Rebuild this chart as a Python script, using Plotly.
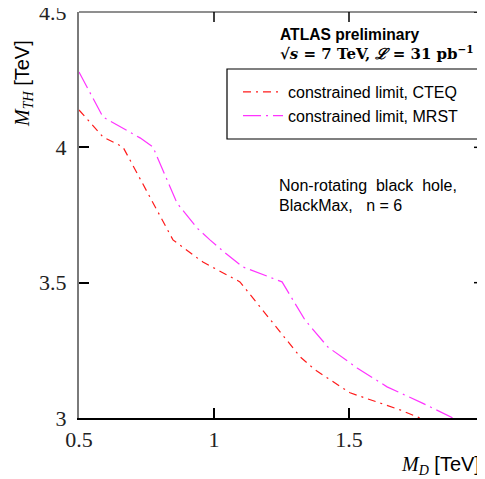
import plotly.graph_objects as go

# ---- data ----
cteq_md = [0.50, 0.589, 0.663, 0.848, 0.959, 1.096, 1.319, 1.374, 1.504, 1.689, 1.763]
cteq_mth = [4.138, 4.038, 4.001, 3.658, 3.576, 3.503, 3.226, 3.178, 3.093, 3.030, 3.000]

mrst_md = [0.50, 0.589, 0.726, 0.774, 0.863, 0.937, 0.985, 1.041, 1.107, 1.252,
           1.337, 1.422, 1.530, 1.641, 1.770, 1.885]
mrst_mth = [4.278, 4.112, 4.035, 4.001, 3.794, 3.702, 3.658, 3.610, 3.558, 3.503,
            3.362, 3.262, 3.185, 3.115, 3.056, 3.000]

x_ticks = [0.5, 1, 1.5, 2]
x_ticklabels = ["0.5", "1", "1.5", "2"]
y_ticks = [3, 3.5, 4, 4.5]
y_ticklabels = ["3", "3.5", "4", "4.5"]

SERIF = "Liberation Serif"
SANS = "Liberation Sans"

# page body has an 8px margin: figure occupies window pixels 8..485 / 8..479
OFF = 8
L, T, PW, PH = 79, 12, 405, 406  # plot area in window pixels
TICK = 10


def px(xw):
    return (xw - L) / PW


def py(yw):
    return (T + PH - yw) / PH


XR = [0.5, 2.000001]
YR = [2.999999, 4.500001]

fig = go.Figure()
fig.add_trace(go.Scatter(
    x=cteq_md, y=cteq_mth, mode="lines", name="constrained limit, CTEQ",
    line=dict(color="#ff1a1a", width=1.2, dash="8px,5px,2px,5px")))
fig.add_trace(go.Scatter(
    x=mrst_md, y=mrst_mth, mode="lines", name="constrained limit, MRST",
    line=dict(color="#ff33ff", width=1.2, dash="18px,5px,2px,5px")))

fig.update_layout(
    width=485 - OFF, height=479 - OFF,
    margin=dict(l=L - OFF, r=1, t=T - OFF, b=479 - T - PH, autoexpand=False),
    paper_bgcolor="white", plot_bgcolor="white",
    showlegend=True,
    legend=dict(x=px(238), y=py(75), xanchor="left", yanchor="top",
                bgcolor="rgba(0,0,0,0)", borderwidth=0,
                font=dict(family=SANS, size=16, color="black"),
                tracegroupgap=0, itemwidth=40),
    xaxis=dict(range=XR, tickvals=x_ticks, ticktext=x_ticklabels,
               automargin=False, ticklabeloverflow="allow",
               showgrid=False, zeroline=False, showline=True, linecolor="black",
               linewidth=1.5, ticks="inside", ticklen=TICK, tickcolor="black",
               tickwidth=1.5,
               tickfont=dict(family=SERIF, size=22, color="#222"),
               ticklabelstandoff=1),
    yaxis=dict(range=YR, tickvals=y_ticks, ticktext=y_ticklabels,
               automargin=False, ticklabeloverflow="allow",
               showgrid=False, zeroline=False, showline=True, linecolor="#7a7a7a",
               linewidth=2, ticks="inside", ticklen=TICK, tickcolor="black",
               tickwidth=1.5,
               tickfont=dict(family=SERIF, size=22, color="#222"),
               ticklabelstandoff=6),
)

shapes = [
    # legend frame
    dict(type="rect", xref="paper", yref="paper",
         x0=px(227), x1=px(482), y0=py(139), y1=py(69),
         line=dict(color="black", width=1.2), fillcolor="rgba(0,0,0,0)"),
    # top frame line
    dict(type="line", xref="paper", yref="paper", x0=0, x1=1, y0=1, y1=1,
         line=dict(color="#6a6a6a", width=1.5)),
]
# top ticks
for xv in x_ticks[1:3]:
    shapes.append(dict(type="line", xref="x", yref="paper", x0=xv, x1=xv,
                       y0=1, y1=1 - TICK / PH, line=dict(color="black", width=1.5)))
# right ticks
for yv in y_ticks[1:]:
    shapes.append(dict(type="line", xref="paper", yref="y", x0=1 - TICK / PW, x1=1,
                       y0=yv, y1=yv, line=dict(color="black", width=1.5)))
fig.update_layout(shapes=shapes)

texts = [
    (278, 34, "<b>ATLAS preliminary</b>", dict(family=SANS, size=15.6, color="black")),
    (278, 53, "<b>√<i>s</i> = 7 TeV, <i>ℒ</i> = 31 pb<sup>−1</sup></b>",
     dict(family="DejaVu Serif", size=15, color="black")),
    (277, 185, "Non-rotating  black  hole,", dict(family=SANS, size=16, color="black")),
    (277, 205, "BlackMax,   n = 6", dict(family=SANS, size=16, color="black")),
]
anns = []
for xw, yw, t, f in texts:
    anns.append(dict(xref="paper", yref="paper", x=px(xw), y=py(yw),
                     xanchor="left", yanchor="middle", showarrow=False, text=t, font=f))
# axis titles
anns.append(dict(xref="paper", yref="paper", x=px(482), y=py(465),
                 xanchor="right", yanchor="middle", showarrow=False,
                 text=f"<span style='font-family:{SERIF}'><i>M</i><sub><i>D</i></sub></span> [TeV]",
                 font=dict(family=SANS, size=20, color="black")))
anns.append(dict(xref="paper", yref="paper", x=px(23), y=py(84),
                 xanchor="center", yanchor="middle", showarrow=False, textangle=-90,
                 text=f"<span style='font-family:{SERIF}'><i>M</i><sub><i>TH</i></sub></span> [TeV]",
                 font=dict(family=SANS, size=20, color="black")))
fig.update_layout(annotations=anns)

fig.write_html("out.html")
